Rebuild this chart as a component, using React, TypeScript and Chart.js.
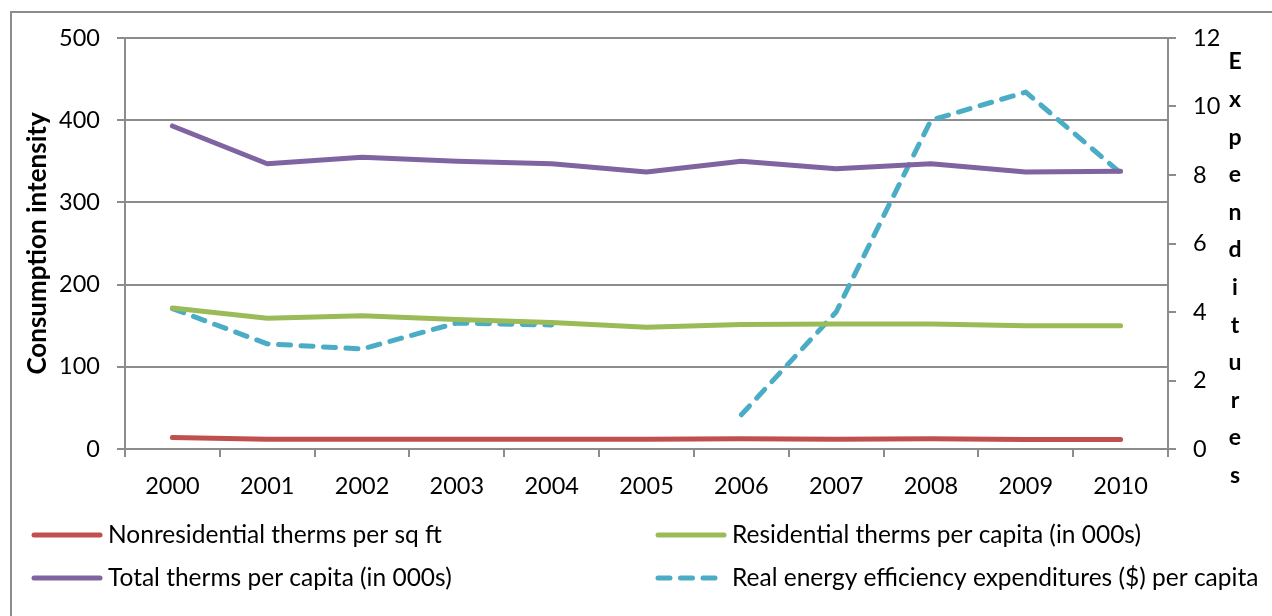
import React, { useEffect, useRef } from "react";
import { Chart, registerables } from "chart.js";

Chart.register(...registerables);

// Years on the category axis
const years = ["2000", "2001", "2002", "2003", "2004", "2005", "2006", "2007", "2008", "2009", "2010"];

// Consumption intensity series (left axis)
const nonresidentialPerSqFt = [14, 12, 12, 12, 12, 12, 12.5, 12, 12.5, 11.5, 11.5];
const residentialPerCapita = [171.5, 159, 162, 157.5, 154, 148, 151.5, 152, 152, 150, 150];
const totalPerCapita = [393, 347, 355, 350, 347, 337, 350, 341, 347, 337, 338];

// Real energy efficiency expenditures per capita (right axis); 2005 missing
const efficiencySpending = [4.1, 3.07, 2.92, 3.68, 3.62, null, 1.0, 4.0, 9.6, 10.42, 8.06];

const leftTitle = "Consumption intensity";
const rightTitle = "Expenditures";

const FONT = 'Lato, "Open Sans", sans-serif';
const GRID = "#8c8c8c";

const W = 1272;
const H = 616;

// Two-column legend drawn beneath the plot
const legendPlugin = {
  id: "gridLegend",
  afterDraw(chart: any) {
    const ctx = chart.ctx as CanvasRenderingContext2D;
    const colX = [32, 656];
    const rowY = [535, 578];
    chart.data.datasets.forEach((ds: any, i: number) => {
      const x0 = colX[i % 2];
      const y = rowY[Math.floor(i / 2)];
      ctx.save();
      ctx.strokeStyle = ds.borderColor;
      ctx.lineWidth = ds.borderWidth;
      ctx.lineCap = "round";
      ctx.setLineDash(ds.borderDash || []);
      ctx.beginPath();
      ctx.moveTo(x0 + 2, y);
      ctx.lineTo(x0 + 68, y);
      ctx.stroke();
      ctx.setLineDash([]);
      ctx.fillStyle = "#000";
      ctx.font = `24.5px ${FONT}`;
      ctx.textBaseline = "middle";
      ctx.textAlign = "left";
      ctx.fillText(ds.label, x0 + 76, y);
      ctx.restore();
    });
  },
};

// Right axis title set as stacked upright letters
const stackedTitlePlugin = {
  id: "stackedTitle",
  afterDraw(chart: any) {
    const ctx = chart.ctx as CanvasRenderingContext2D;
    const area = chart.chartArea;
    ctx.save();
    ctx.fillStyle = "#000";
    ctx.font = `bold 23px ${FONT}`;
    ctx.textAlign = "center";
    ctx.textBaseline = "middle";
    const letters = rightTitle.split("");
    const x = area.right + 67;
    letters.forEach((ch, i) => {
      ctx.fillText(ch, x, area.top + 24 + i * 37.6);
    });
    ctx.restore();
  },
};

export default function App() {
  const canvasRef = useRef<HTMLCanvasElement | null>(null);

  useEffect(() => {
    if (!canvasRef.current) return;
    const chart = new Chart(canvasRef.current, {
      type: "line",
      data: {
        labels: years,
        datasets: [
          {
            label: "Nonresidential therms per sq ft",
            data: nonresidentialPerSqFt,
            borderColor: "#c0504d",
            backgroundColor: "#c0504d",
            borderWidth: 5,
            yAxisID: "y",
          },
          {
            label: "Residential therms per capita (in 000s)",
            data: residentialPerCapita,
            borderColor: "#9bbb59",
            backgroundColor: "#9bbb59",
            borderWidth: 5,
            yAxisID: "y",
          },
          {
            label: "Total therms per capita (in 000s)",
            data: totalPerCapita,
            borderColor: "#8064a2",
            backgroundColor: "#8064a2",
            borderWidth: 5,
            yAxisID: "y",
          },
          {
            label: "Real energy efficiency expenditures ($) per capita",
            data: efficiencySpending,
            borderColor: "#4bacc6",
            backgroundColor: "#4bacc6",
            borderWidth: 5,
            borderDash: [12, 10.5],
            yAxisID: "y1",
          },
        ],
      },
      options: {
        responsive: false,
        animation: false,
        devicePixelRatio: 1,
        spanGaps: false,
        layout: { padding: { top: 38, left: 0, right: 0, bottom: 0 } },
        elements: {
          point: { radius: 0, hoverRadius: 0 },
          line: { tension: 0, borderCapStyle: "round", borderJoinStyle: "round" },
        },
        plugins: {
          legend: { display: false },
          tooltip: { enabled: false },
          title: { display: false },
        },
        scales: {
          x: {
            type: "category",
            offset: true,
            afterFit: (s: any) => {
              s.height = H - 449;
            },
            grid: {
              offset: true,
              drawOnChartArea: false,
              drawTicks: true,
              tickLength: 8,
              color: GRID,
              lineWidth: 2,
            },
            border: { display: true, color: GRID, width: 2 },
            ticks: {
              color: "#000",
              font: { family: FONT, size: 23.5 },
              padding: 15,
              maxRotation: 0,
              autoSkip: false,
            },
          },
          y: {
            position: "left",
            min: 0,
            max: 500,
            afterFit: (s: any) => {
              s.width = 125;
            },
            ticks: {
              stepSize: 100,
              color: "#000",
              font: { family: FONT, size: 23.5 },
              padding: 17,
            },
            grid: {
              color: GRID,
              lineWidth: 2,
              drawTicks: true,
              tickLength: 8,
            },
            border: { display: true, color: GRID, width: 2 },
            title: {
              display: true,
              text: leftTitle,
              color: "#000",
              font: { family: FONT, size: 26, weight: "bold" },
              padding: { top: 22.4, bottom: 0, left: 0, right: 0 },
            },
          },
          y1: {
            position: "right",
            min: 0,
            max: 12,
            afterFit: (s: any) => {
              s.width = W - 1168;
            },
            ticks: {
              stepSize: 2,
              color: "#000",
              font: { family: FONT, size: 23.5 },
              padding: 17,
            },
            grid: {
              drawOnChartArea: false,
              drawTicks: true,
              tickLength: 8,
              color: GRID,
              lineWidth: 2,
            },
            border: { display: true, color: GRID, width: 2 },
          },
        },
      },
      plugins: [legendPlugin, stackedTitlePlugin],
    });
    return () => chart.destroy();
  }, []);

  return (
    <div
      style={{
        position: "fixed",
        left: 0,
        top: 0,
        width: W,
        height: H,
        overflow: "hidden",
        background: "#fff",
      }}
    >
      <div
        style={{
          position: "absolute",
          left: 10,
          top: 11,
          width: W + 100,
          height: H + 100,
          border: `2px solid ${GRID}`,
          boxSizing: "border-box",
        }}
      />
      <canvas
        ref={canvasRef}
        width={W}
        height={H}
        style={{ position: "absolute", left: 0, top: 0, width: W, height: H }}
      />
    </div>
  );
}
